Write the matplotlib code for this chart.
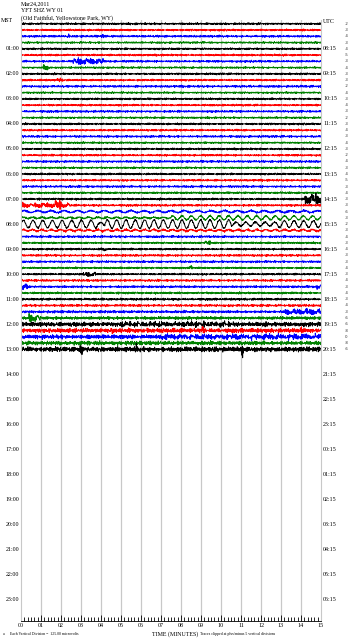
import numpy as np
import matplotlib
matplotlib.use("Agg")
import matplotlib.pyplot as plt
from matplotlib.ticker import MultipleLocator

# station / header text
title_lines = ["Mar24,2011", "YFT SHZ WY 01", "(Old Faithful, Yellowstone Park, WY)"]
footer_left = "Each Vertical Division =  125.00 microvolts"
footer_right = "Traces clipped at plus/minus 5 vertical divisions"

# 96 rows of 15 minutes each, data recorded up to the 13:00 row
n_rows = 96
n_traces = 53
trace_colors = ["black", "red", "blue", "green"]
mst_hours = ["%02d:00" % h for h in range(24)]
utc_hours = ["%02d:15" % ((h + 7) % 24) for h in range(24)]

# background noise level of each trace (in row spacings)
noise_level = [0.15, 0.15, 0.16, 0.14, 0.15, 0.15, 0.16, 0.14, 0.15, 0.15, 0.16, 0.14,
               0.15, 0.15, 0.16, 0.14, 0.15, 0.15, 0.16, 0.14, 0.15, 0.15, 0.16, 0.14,
               0.15, 0.15, 0.16, 0.15, 0.16, 0.16, 0.15, 0.14, 0.13, 0.16, 0.16, 0.14,
               0.15, 0.16, 0.16, 0.14, 0.15, 0.16, 0.16, 0.16, 0.17, 0.18, 0.19, 0.23,
               0.34, 0.32, 0.32, 0.30, 0.38]

# local bursts: (row, start min, end min, amplitude)
events = [
    (2, 2.3, 2.4, 0.35), (2, 4.05, 4.15, 0.35),
    (6, 2.6, 4.1, 0.40), (7, 1.1, 1.35, 0.40),
    (9, 1.8, 2.1, 0.25),
    (28, 14.2, 15.0, 0.75),
    (29, 0.0, 2.5, 0.30), (29, 1.7, 2.0, 0.45),
    (35, 9.2, 9.5, 0.30), (36, 4.0, 4.3, 0.25), (39, 8.4, 8.6, 0.30),
    (40, 3.1, 3.8, 0.30), (42, 0.0, 0.35, 0.45), (42, 14.8, 15.0, 0.30),
    (46, 13.2, 15.0, 0.40), (47, 0.4, 1.0, 0.45),
    (48, 5.0, 10.5, 0.25), (49, 4.55, 4.65, 0.45), (49, 9.05, 9.15, 0.50),
    (49, 13.95, 14.05, 0.45), (50, 7.0, 15.0, 0.25),
    (52, 2.95, 3.05, 0.8), (52, 5.75, 5.85, 0.7), (52, 11.05, 11.15, 1.1),
]

# long period waves: (row, start min, end min, amplitude, period s)
waves = [
    (30, 0.0, 15.0, 0.15, 40.0),
    (31, 0.0, 7.5, 0.10, 28.0), (31, 7.5, 15.0, 0.32, 28.0),
    (32, 0.0, 3.8, 0.60, 29.0), (32, 3.8, 4.2, 0.25, 29.0), (32, 4.2, 10.5, 0.68, 28.0),
    (32, 10.5, 12.8, 0.30, 29.0), (32, 12.8, 15.0, 0.55, 29.0),
    (33, 0.0, 15.0, 0.12, 28.0),
]

# small numbers printed at the right end of each trace
trace_marks = [-2, -3, -4, -3, -4, -5, -3, -4, -3, -3, -2, -4, -3, -4, -3, -2, -3, -4,
               -3, -4, -3, -2, -4, -3, -4, -5, -3, -4, -3, -3, -6, -3, -2, -3, -4, -3,
               -4, -3, -3, -4, -3, -4, -3, -4, -3, -4, -3, -6, -6, -8, 0, -8, -6]

# hand typed wiggle patterns for the texture of the trace
jit_a = [0.3, -0.8, 0.5, -0.2, 0.9, -0.6, 0.1, -0.9, 0.7, -0.3, 0.4, -1.0, 0.6, -0.1,
         0.8, -0.5, 0.2, -0.7, 1.0, -0.4, 0.0, -0.6, 0.5, -0.9, 0.3, 0.7, -0.2, -0.8,
         0.6, -0.3, 0.9, -0.1, -0.7, 0.4, -0.5, 0.8, -1.0, 0.2, 0.5, -0.4, 0.1]
jit_b = [-0.5, 0.9, -0.2, 0.4, -0.8, 0.1, 0.7, -0.6, 0.3, -1.0, 0.5, 0.2, -0.4, 0.8,
         -0.7, 0.0, 0.6, -0.3, 1.0, -0.9, 0.2, -0.1, 0.4, -0.6, 0.9, -0.2, 0.3, -0.8, 0.5]
jit_c = [0.6, -0.4, -0.9, 0.2, 0.8, -0.1, -0.6, 0.5, 0.1, -0.8, 0.9, -0.3, 0.4,
         -0.7, 0.3, 0.7, -0.5, -0.2, 1.0, -0.6, 0.2, -0.9, 0.5]

fig = plt.figure(figsize=(3.55, 6.4), dpi=100)
ax = fig.add_axes([21 / 355, 1 - 621 / 640, 300 / 355, 601 / 640])

t = np.linspace(0, 15, 1000)
ja = np.array(jit_a)
jb = np.array(jit_b)
jc = np.array(jit_c)
k = np.arange(len(t))
for i in range(n_traces):
    n = (ja[(k + 7 * i) % len(ja)] * 0.6 + jb[(3 * k + 11 * i) % len(jb)] * 0.45
         + jc[(k // 2 + 5 * i) % len(jc)] * 0.35)
    y = n * noise_level[i]
    for row, s, e, a in events:
        if row == i:
            m = (t >= s) & (t <= e)
            y[m] += ja[(5 * k[m] + i) % len(ja)] * a
    for row, s, e, a, p in waves:
        if row == i:
            m = (t >= s) & (t < e)
            y[m] += a * np.sin(2 * np.pi * t[m] * 60 / p)
    ax.plot(t, i + 0.6 - y, color=trace_colors[i % 4], lw=0.7)

ax.set_xlim(0, 15)
ax.set_ylim(n_rows, 0)
for m in range(1, 15):
    ax.axvline(m, color="#c8c8c8", lw=0.9, zorder=0)

fnt = dict(family="Liberation Serif", fontsize=4.3)
for h in range(24):
    yy = 4 * h + 0.6
    if h > 0:
        ax.text(-0.1, yy, mst_hours[h], ha="right", va="center", **fnt)
        ax.text(15.1, yy, utc_hours[h], ha="left", va="center", **fnt)
for i in range(n_traces):
    ax.text(16.2, i + 0.6, str(trace_marks[i]), ha="left", va="center",
            family="DejaVu Sans", fontsize=2.8, color="#333333")
fig.text(1 / 355, 1 - 21 / 640, "MST", ha="left", va="center", **fnt)
ax.text(15.1, 0.3, "UTC", ha="left", va="center", **fnt)

for j, s in enumerate(title_lines):
    fig.text(21 / 355, 1 - (4 + 7 * j) / 640, s, ha="left", va="center", **fnt)

ax.set_yticks([])
ax.xaxis.set_major_locator(MultipleLocator(1))
ax.xaxis.set_minor_locator(MultipleLocator(1 / 6))
ax.set_xticks(range(16))
ax.set_xticklabels(["%02d" % m for m in range(16)], family="Liberation Serif", fontsize=4.3)
ax.tick_params(axis="x", which="both", direction="in", length=4, width=0.6, pad=1.5)
ax.tick_params(axis="x", which="minor", length=3)
ax.spines["top"].set_visible(False)
for sp in ["left", "right"]:
    ax.spines[sp].set_color("#c8c8c8")
ax.spines["bottom"].set_linewidth(0.6)

fig.text(175 / 355, 1 - 634 / 640, "TIME (MINUTES)", ha="center", va="center", **fnt)
fig.text(10 / 355, 1 - 634 / 640, footer_left, ha="left", va="center",
         family="Liberation Serif", fontsize=2.8)
fig.text(200 / 355, 1 - 634 / 640, footer_right, ha="left", va="center",
         family="Liberation Serif", fontsize=2.8)
fig.text(3 / 355, 1 - 634 / 640, "a", ha="left", va="center",
         family="Liberation Serif", fontsize=2.8)

fig.savefig("out.png", dpi=100)
